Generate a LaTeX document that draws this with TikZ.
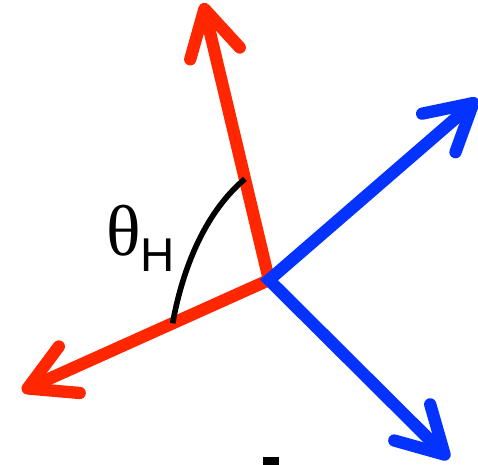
\documentclass[tikz,border=0pt]{standalone}
\usepackage{fontspec}
\usepackage{tikz}
\usetikzlibrary{
  calc,
  arrows.meta
}
\newfontfamily\greekfont{Liberation Serif}
\newfontfamily\subfont{Liberation Sans}
\definecolor{vecred}{HTML}{FF2600}
\definecolor{vecblue}{HTML}{0433FF}

\begin{document}
\begin{tikzpicture}[x=0.02cm, y=-0.02cm,
    vec/.style={line width=7pt, line join=miter,
                {Straight Barb[length=26pt,width=29pt,round]}-{Straight Barb[length=26pt,width=29pt,round]}},
    anglearc/.style={line width=3.2pt, draw=black},
    anglelabel/.style={inner sep=0pt, anchor=base west},
  ]
  \useasboundingbox (0,0) rectangle (478,465);
  % frame centre and vector tips
  \coordinate (O)        at (269,280);
  \coordinate (redup)    at (203,3);
  \coordinate (reddown)  at (22,391);
  \coordinate (blueup)   at (478,99);
  \coordinate (bluedown) at (449,459);
  \draw[vec, vecred]  (redup) -- (O) -- (reddown);
  \draw[vec, vecblue] (blueup) -- (O) -- (bluedown);
  % angle between the red axes
  \coordinate (arcA) at ($(O)!0.365!(redup)$);
  \coordinate (arcB) at ($(O)!0.39!(reddown)$);
  \draw[anglearc] (arcA) .. controls (201,216) and (181,277) .. (arcB);
  \node[anglelabel] (thetaH) at (106,256)
    {\fontsize{41}{41}\greekfont θ\raisebox{-9pt}{\fontsize{27}{27}\subfont H}};
  % cut-off glyph at the bottom edge
  \fill (263,457) rectangle (279,466);
\end{tikzpicture}
\end{document}
